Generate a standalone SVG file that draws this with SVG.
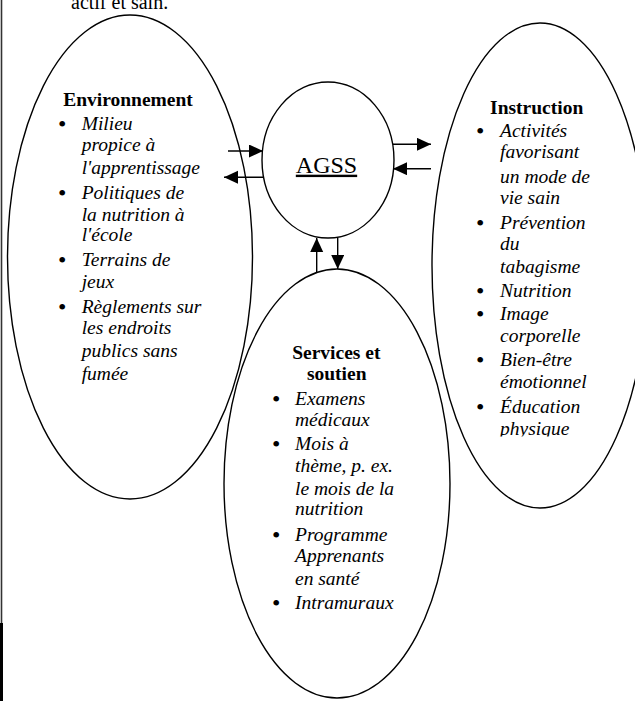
<svg xmlns="http://www.w3.org/2000/svg" width="635" height="701" viewBox="0 0 635 701">
<style>
.shape{fill:none;stroke:#000;stroke-width:1.4}
.con{stroke:#000;stroke-width:1.4;fill:none}
text{font-family:"Liberation Serif","Times New Roman",serif;fill:#000}
.h{font-size:19.5px;font-weight:bold;text-anchor:middle}
.it{font-size:19.5px;font-style:italic}
.b text{font-size:24px}
.t{font-size:20px}
</style>
<defs>
<marker id="ah" markerUnits="userSpaceOnUse" markerWidth="15" markerHeight="14" refX="14" refY="6.5" orient="auto">
<path d="M0,0 L14,6.5 L0,13 z" fill="#000"/>
</marker>
<clipPath id="clipPhys"><rect x="480" y="415" width="150" height="21.5"/></clipPath>
</defs>
<rect width="635" height="701" fill="#fff"/>
<line x1="1.5" y1="0" x2="1.5" y2="623" stroke="#333" stroke-width="1.6"/>
<rect x="0" y="623" width="3" height="78" fill="#000"/>
<text class="t" x="71" y="8.5">actif et sain.</text>

<g id="environnement">
<ellipse class="shape" cx="130" cy="257" rx="122.5" ry="242"/>
<text class="h" x="128" y="106">Environnement</text>
<g class="b"><text x="58" y="132">•</text><text x="58" y="200.7">•</text><text x="58" y="268">•</text><text x="58" y="315.3">•</text></g>
<g class="it">
<text x="81.7" y="130">Milieu</text>
<text x="81.7" y="150.7">propice à</text>
<text x="81.7" y="174">l'apprentissage</text>
<text x="81.7" y="198.7">Politiques de</text>
<text x="81.7" y="220.7">la nutrition à</text>
<text x="81.7" y="241">l'école</text>
<text x="81.7" y="266">Terrains de</text>
<text x="81.7" y="288.3">jeux</text>
<text x="81.7" y="313.3">Règlements sur</text>
<text x="81.7" y="334">les endroits</text>
<text x="81.7" y="356.7">publics sans</text>
<text x="81.7" y="380">fumée</text>
</g>
</g>

<g id="agss">
<ellipse class="shape" cx="328" cy="160" rx="66" ry="78"/>
<text x="326.5" y="172.7" font-size="24" text-anchor="middle" text-decoration="underline">AGSS</text>
</g>

<g id="instruction">
<ellipse class="shape" cx="540" cy="265.5" rx="108" ry="242.5"/>
<text class="h" x="536.7" y="114.3">Instruction</text>
<g class="b"><text x="476" y="139.3">•</text><text x="476" y="231.3">•</text><text x="476" y="299.3">•</text><text x="476" y="322">•</text><text x="476" y="367.7">•</text><text x="476" y="414.7">•</text></g>
<g class="it">
<text x="500" y="137.3">Activités</text>
<text x="500" y="158.3">favorisant</text>
<text x="500" y="183.3">un mode de</text>
<text x="500" y="204">vie sain</text>
<text x="500" y="229.3">Prévention</text>
<text x="500" y="250">du</text>
<text x="500" y="273.3">tabagisme</text>
<text x="500" y="297.3">Nutrition</text>
<text x="500" y="320">Image</text>
<text x="500" y="341.7">corporelle</text>
<text x="500" y="365.7">Bien-être</text>
<text x="500" y="387.7">émotionnel</text>
<text x="500" y="412.7">Éducation</text>
<text x="500" y="435" clip-path="url(#clipPhys)">physique</text>
</g>
</g>

<g id="services">
<ellipse class="shape" cx="337" cy="483.5" rx="113" ry="214.5"/>
<text class="h" x="336.3" y="359">Services et</text>
<text class="h" x="336.7" y="380">soutien</text>
<g class="b"><text x="272" y="407">•</text><text x="272" y="452">•</text><text x="272" y="542.7">•</text><text x="272" y="611.3">•</text></g>
<g class="it">
<text x="295" y="405">Examens</text>
<text x="295" y="425.7">médicaux</text>
<text x="295" y="450">Mois à</text>
<text x="295" y="471.5">thème, p. ex.</text>
<text x="295" y="495">le mois de la</text>
<text x="295" y="515">nutrition</text>
<text x="295" y="540.7">Programme</text>
<text x="295" y="561.7">Apprenants</text>
<text x="295" y="585">en santé</text>
<text x="295" y="609.3">Intramuraux</text>
</g>
</g>

<g id="connectors">
<line class="con" x1="228" y1="151" x2="263" y2="151" marker-end="url(#ah)"/>
<line class="con" x1="264" y1="177.3" x2="224" y2="177.3" marker-end="url(#ah)"/>
<line class="con" x1="393" y1="144.3" x2="431" y2="144.3" marker-end="url(#ah)"/>
<line class="con" x1="431" y1="168.7" x2="393" y2="168.7" marker-end="url(#ah)"/>
<line class="con" x1="316.7" y1="272" x2="316.7" y2="238" marker-end="url(#ah)"/>
<line class="con" x1="337.7" y1="238" x2="337.7" y2="269" marker-end="url(#ah)"/>
</g>
</svg>
